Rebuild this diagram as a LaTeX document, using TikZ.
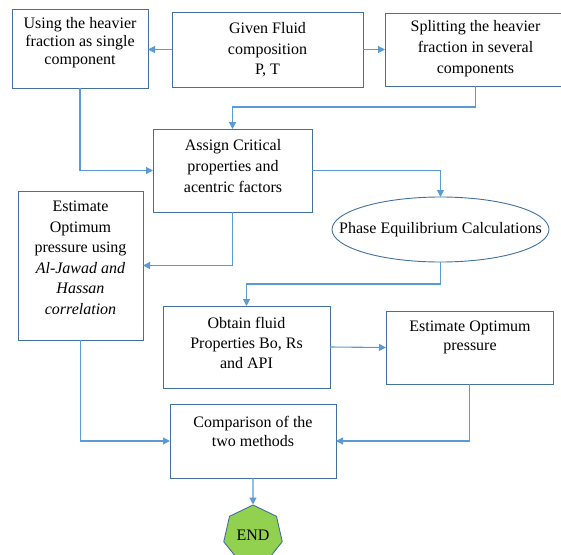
\documentclass[tikz,border=0pt]{standalone}
\usepackage{fontspec}
\setmainfont{Liberation Serif}
\usetikzlibrary{arrows.meta,shapes.geometric}
\definecolor{boxblue}{HTML}{41719C}
\definecolor{linblue}{HTML}{5B9BD5}
\definecolor{endgreen}{HTML}{92D050}
\begin{document}
\begin{tikzpicture}[x=1pt,y=-1pt,
  box/.style={draw=boxblue,line width=0.9pt,rectangle,inner sep=0pt,outer sep=0pt},
  txt/.style={align=center,inner sep=0pt,text=black,font=\fontsize{16}{#1}\selectfont},
  conn/.style={draw=linblue,line width=1.1pt,-{Triangle[length=7pt,width=7pt]}},
]
\useasboundingbox (0,0) rectangle (561,554);
% boxes
\node[box,minimum width=136pt,minimum height=79pt] (b1) at (80,48.5) {};
\node[box,minimum width=191pt,minimum height=75pt] (b2) at (267.5,49.5) {};
\node[box,minimum width=181pt,minimum height=73pt] (b3) at (475.5,49.5) {};
\node[box,minimum width=159pt,minimum height=83pt] (b4) at (232.5,170.5) {};
\node[box,ellipse,minimum width=217pt,minimum height=65pt] (e) at (440.5,229.5) {};
\node[box,minimum width=125pt,minimum height=149pt] (b5) at (80.5,265.5) {};
\node[box,minimum width=167pt,minimum height=82pt] (b6) at (246.5,347) {};
\node[box,minimum width=167pt,minimum height=73pt] (b7) at (469.5,347.5) {};
\node[box,minimum width=166pt,minimum height=74pt] (b8) at (253,441) {};
\node[regular polygon,regular polygon sides=7,minimum size=60pt,inner sep=0pt,
      draw=boxblue,line width=0.9pt,fill=endgreen,font=\fontsize{16}{18}\selectfont] (end) at (253,535) {END};
% texts
\node[txt=18] (t1) at (80,43) {Using the heavier\\fraction as single\\component};
\node[txt=20.5] (t2) at (267.5,50) {Given Fluid\\composition\\P, T};
\node[txt=21] (t3) at (475.5,49) {Splitting the heavier\\fraction in several\\components};
\node[txt=21] (t4) at (233,166) {Assign Critical\\properties and\\acentric factors};
\node[txt=16] (te) at (440.5,229.5) {Phase Equilibrium Calculations};
\node[txt=20.5] (t5) at (80.5,258) {Estimate\\Optimum\\pressure using\\\textit{Al-Jawad and}\\\textit{Hassan}\\\textit{correlation}};
\node[txt=20] (t6) at (246.5,343) {Obtain fluid\\Properties Bo, Rs\\and API};
\node[txt=19] (t7) at (470,337.5) {Estimate Optimum\\pressure};
\node[txt=19] (t8) at (253,431.5) {Comparison of the\\two methods};
% connectors
\draw[conn] (b2.west) -- (b1.east |- b2.west);
\draw[conn] (b2.east) -- (b3.west |- b2.east);
\draw[conn] (b3.south) -- ++(0,21) -| (b4.north);
\draw[conn] (b1.south) |- (b4.west);
\draw[conn] (b4.east) -| (e.north);
\draw[conn] (b4.south) |- (b5.east);
\draw[conn] (e.south) -- ++(0,22) -| (b6.north);
\draw[conn] (b6.east) -- (b7.west);
\draw[conn] (b5.south) |- (b8.west);
\draw[conn] (b7.south) |- (b8.east);
\draw[conn] (b8.south) -- (end.north);
\end{tikzpicture}
\end{document}
